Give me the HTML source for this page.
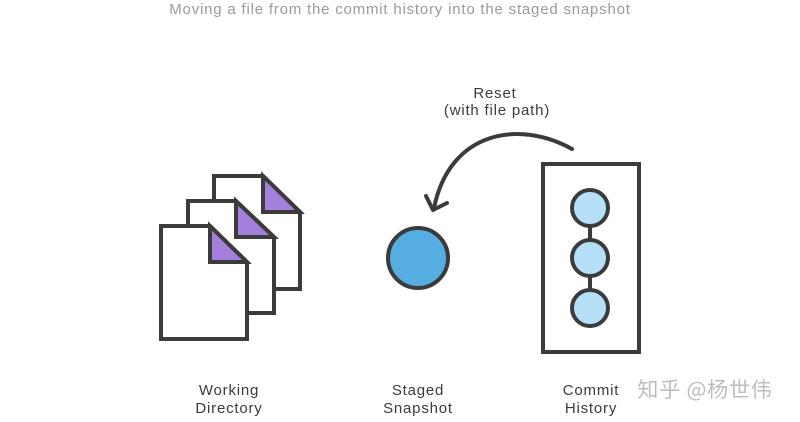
<!DOCTYPE html>
<html><head><meta charset="utf-8"><style>
html,body{margin:0;padding:0;background:#fff;width:800px;height:422px;overflow:hidden}
svg{display:block}
text{font-family:"Liberation Sans","Noto Sans CJK SC",sans-serif;letter-spacing:0.8px}
</style></head><body>
<svg width="800" height="422" viewBox="0 0 800 422">
<text x="400" y="14" text-anchor="middle" font-size="15" fill="#9a9a9a">Moving a file from the commit history into the staged snapshot</text>
<g stroke="#3b3b3b" stroke-width="4" stroke-linejoin="miter" fill="#fff">
<path d="M214,176 H263 L300,212 V289 H214 Z"/>
<path d="M263,176 V212 H300 Z" fill="#a57fdc"/>
<path d="M188,201 H236 L274,237 V313 H188 Z"/>
<path d="M236,201 V237 H274 Z" fill="#a57fdc"/>
<path d="M161,226 H210 L247,262 V339 H161 Z"/>
<path d="M210,226 V262 H247 Z" fill="#a57fdc"/>
<circle cx="418" cy="258" r="30" fill="#55ade2"/>
<rect x="543" y="164" width="96" height="188"/>
<line x1="590" y1="208" x2="590" y2="308"/>
<circle cx="590" cy="208" r="18" fill="#b6e0f8"/>
<circle cx="590" cy="258" r="18" fill="#b6e0f8"/>
<circle cx="590" cy="308" r="18" fill="#b6e0f8"/>
<path d="M572,149 C520,120 450,130 434,208" fill="none" stroke-linecap="round"/>
<path d="M426,196 L433,210 L447,203" fill="none" stroke-linecap="round" stroke-linejoin="round"/>
</g>
<g font-size="15" fill="#3b3b3b" text-anchor="middle">
<text x="495" y="98">Reset</text>
<text x="497" y="115">(with file path)</text>
<text x="229" y="395">Working</text>
<text x="229" y="413">Directory</text>
<text x="418" y="395">Staged</text>
<text x="418" y="413">Snapshot</text>
<text x="591" y="395">Commit</text>
<text x="591" y="413">History</text>
</g>
<text x="705" y="397" text-anchor="middle" font-size="21" fill="#bdbdbd" style="font-family:'Noto Sans CJK SC',sans-serif">知乎 @杨世伟</text>
</svg>
</body></html>
